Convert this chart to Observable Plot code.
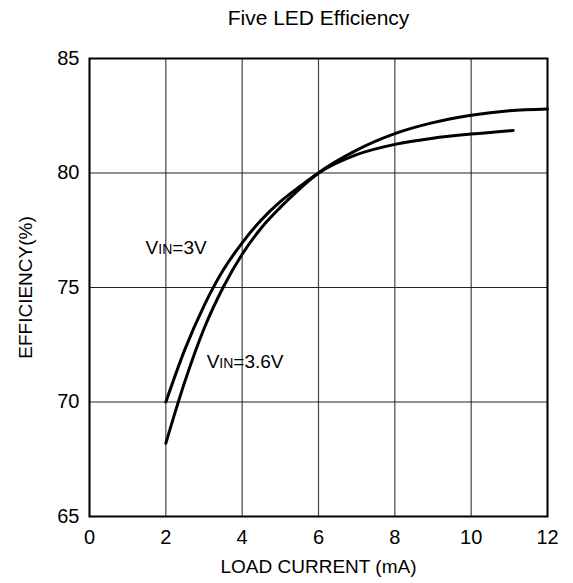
<!DOCTYPE html>
<html><head><meta charset="utf-8">
<script src="https://cdn.jsdelivr.net/npm/d3@7"></script>
<script src="https://cdn.jsdelivr.net/npm/@observablehq/plot@0.6"></script>
<style>body{margin:0;background:#fff;font-family:"Liberation Sans",Arial,sans-serif}</style>
</head><body><div id="chart"></div>
<script>
const xTicks = [0,2,4,6,8,10,12];
const yTicks = [65,70,75,80,85];
const v3x = [2,2.5,3,3.5,4,4.5,5,5.5,6,7,8,9,10,11.1];
const v3y = [70,72.3,74.2,75.75,76.95,77.95,78.75,79.4,80.0,80.8,81.25,81.52,81.7,81.86];
const v36x = [2,2.5,3,3.5,4,4.5,5,5.5,6,7,8,9,10,11,12];
const v36y = [68.2,70.9,73.2,75.0,76.45,77.6,78.5,79.3,80.0,81.0,81.72,82.2,82.52,82.72,82.8];
const labels = [{x:1.47,y:76.75,t:"VIN=3V"},{x:3.07,y:71.75,t:"VIN=3.6V"}];
const s3 = v3x.map((x,i)=>({x,y:v3y[i]}));
const s36 = v36x.map((x,i)=>({x,y:v36y[i]}));
const plot = Plot.plot({
  width:573, height:583,
  marginLeft:89, marginRight:26, marginTop:58, marginBottom:67,
  style:{fontFamily:"Liberation Sans, Arial, sans-serif", color:"#000", background:"#fff"},
  x:{domain:[0,12]},
  y:{domain:[65,85]},
  marks:[
    Plot.gridX(xTicks,{stroke:"#444", strokeOpacity:1, strokeWidth:1.2}),
    Plot.gridY(yTicks,{stroke:"#222", strokeOpacity:1, strokeWidth:1.2}),
    Plot.axisX(xTicks,{tickSize:0, tickPadding:13, fontSize:20, label:null}),
    Plot.axisY(yTicks,{tickSize:0, tickPadding:10, fontSize:20, label:null}),
    Plot.text(["LOAD CURRENT (mA)"],{frameAnchor:"bottom", lineAnchor:"middle", dy:50, fontSize:19, fill:"#000"}),
    Plot.text(["EFFICIENCY(%)"],{frameAnchor:"left", textAnchor:"middle", lineAnchor:"middle", rotate:-90, dx:-64, fontSize:19, fill:"#000"}),
    Plot.frame({stroke:"#000", strokeWidth:2}),
    Plot.line(s3,{x:"x",y:"y",curve:"monotone-x",stroke:"#000",strokeWidth:3}),
    Plot.line(s36,{x:"x",y:"y",curve:"monotone-x",stroke:"#000",strokeWidth:3}),
    Plot.text(labels,{x:"x",y:"y",text:"t",textAnchor:"start",fontSize:19,fill:"#000",className:"vlab"}),
    Plot.text(["Five LED Efficiency"],{frameAnchor:"top", lineAnchor:"middle", dy:-40, fontSize:21, fill:"#000"})
  ]
});
document.getElementById("chart").appendChild(plot);
d3.select(plot).selectAll(".vlab text").each(function(){
  const t = this.textContent; const s = d3.select(this); s.text("");
  s.append("tspan").text("V");
  s.append("tspan").attr("font-size",14).text("IN");
  s.append("tspan").text(t.slice(3));
});
</script></body></html>
